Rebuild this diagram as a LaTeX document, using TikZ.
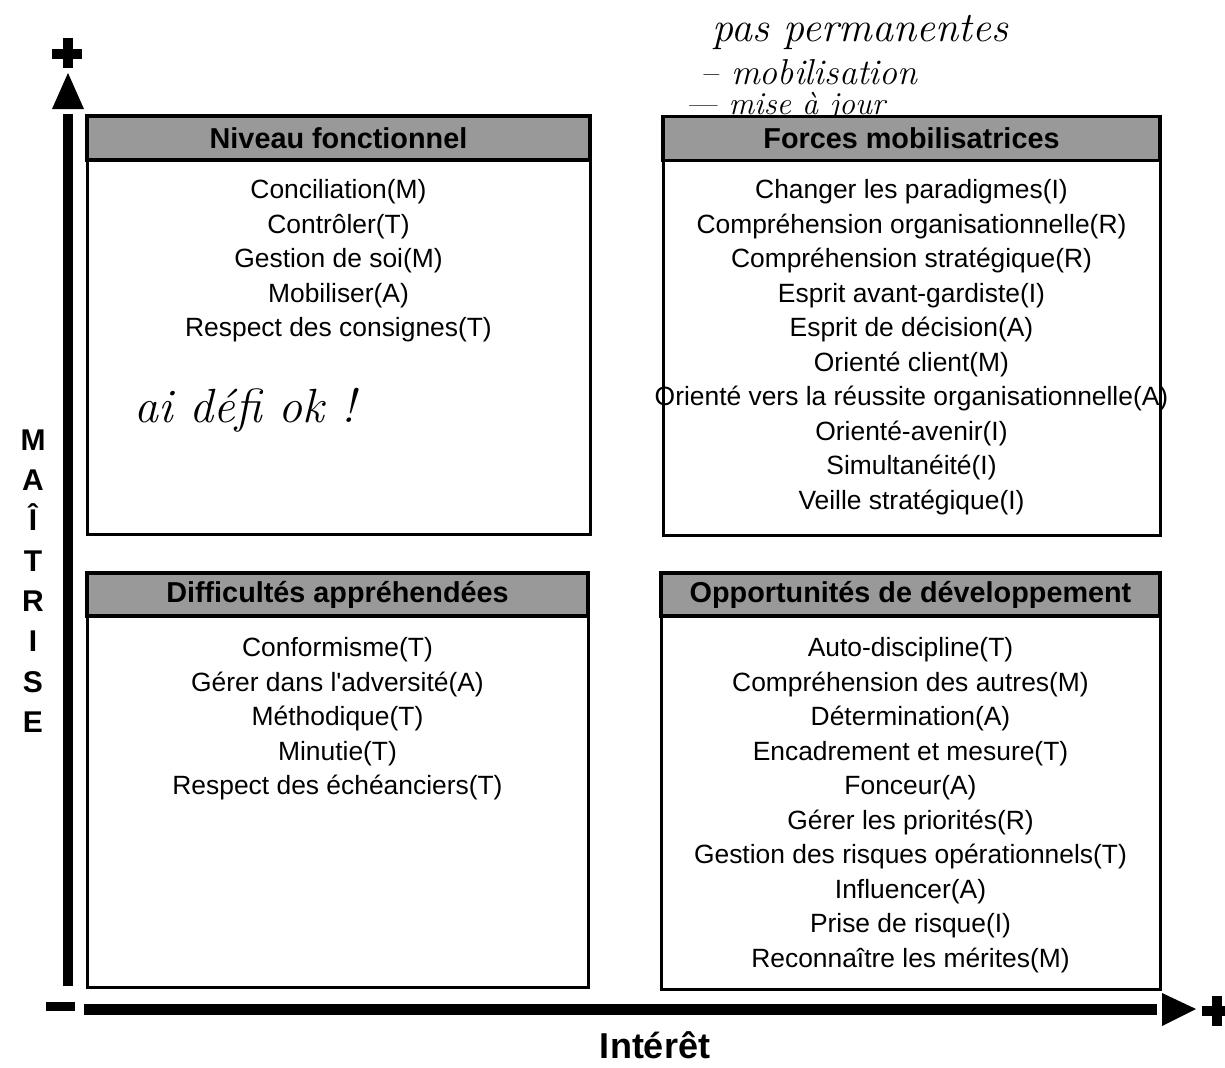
\documentclass[tikz,border=0pt]{standalone}
\usepackage{fontspec}
\setsansfont{Liberation Sans}
\usetikzlibrary{positioning}

\begin{document}
\begin{tikzpicture}[x=0.5pt,y=-0.5pt,
bx/.style={draw,line width=1.5pt,inner sep=0pt,anchor=north},
hdr/.style={draw,line width=1.8pt,fill=black!40,inner sep=0pt,
minimum height=22pt,font=\sffamily\bfseries\fontsize{14.4}{16}\selectfont},
lst/.style={align=center,inner sep=0pt,anchor=north,
font=\sffamily\fontsize{13.2}{17.25}\selectfont},
axlbl/.style={inner sep=0pt,font=\sffamily\bfseries\fontsize{15}{20.15}\selectfont},
note/.style={inner sep=0pt,font=\itshape\fontsize{21}{21}\selectfont}]
\useasboundingbox (0,0) rectangle (1225,1067);

% notes written on the sheet
\node[note] (pasperm) at (860,32) {pas permanentes};
\node[note,anchor=west,font=\itshape\fontsize{18}{18}\selectfont] (mobil) at (700,72) {-- mobilisation};
\node[note,anchor=west,font=\itshape\fontsize{16}{16}\selectfont] (misejour) at (685,107) {--- mise à jour};
\node[note,font=\itshape\fontsize{24}{24}\selectfont] (defi) at (245,410) {ai défi ok !};

% the four boxes
\node[bx,minimum width=251.5pt,minimum height=208.5pt] (nivBox) at (338.5,116) {};
\node[hdr,minimum width=251.5pt] (nivHdr) at (338.5,138) {Niveau fonctionnel};
\node[lst] (nivList) at (338.5,179)
  {Conciliation(M)\\Contrôler(T)\\Gestion de soi(M)\\Mobiliser(A)\\Respect des consignes(T)};

\node[bx,minimum width=248.5pt,minimum height=208.5pt] (forBox) at (911.5,117) {};
\node[hdr,minimum width=248.5pt] (forHdr) at (911.5,138.5) {Forces mobilisatrices};
\node[lst] (forList) at (911.5,179)
  {Changer les paradigmes(I)\\Compréhension organisationnelle(R)\\
   Compréhension stratégique(R)\\Esprit avant-gardiste(I)\\Esprit de décision(A)\\
   Orienté client(M)\\Orienté vers la réussite organisationnelle(A)\\
   Orienté-avenir(I)\\Simultanéité(I)\\Veille stratégique(I)};

\node[bx,minimum width=250.5pt,minimum height=206.5pt] (difBox) at (337.5,573) {};
\node[hdr,minimum width=250.5pt,minimum height=21.5pt] (difHdr) at (337.5,594.5) {Difficultés appréhendées};
\node[lst] (difList) at (337.5,637)
  {Conformisme(T)\\Gérer dans l\textquotesingle adversité(A)\\Méthodique(T)\\Minutie(T)\\
   Respect des échéanciers(T)};

\node[bx,minimum width=249.5pt,minimum height=207.5pt] (oppBox) at (910.5,573) {};
\node[hdr,minimum width=249.5pt,minimum height=21.5pt] (oppHdr) at (910.5,594.5) {Opportunités de développement};
\node[lst] (oppList) at (910.5,637)
  {Auto-discipline(T)\\Compréhension des autres(M)\\Détermination(A)\\
   Encadrement et mesure(T)\\Fonceur(A)\\Gérer les priorités(R)\\
   Gestion des risques opérationnels(T)\\Influencer(A)\\Prise de risque(I)\\
   Reconnaître les mérites(M)};

% axes
\coordinate (yfoot) at (68,986);
\coordinate (yhead) at (68,114);
\coordinate (xfoot) at (84,1009);
\coordinate (xhead) at (1157,1009);
\draw[line width=5pt] (yfoot) -- (yhead);
\fill (52,109) -- (68,73) -- (84,109) -- cycle;
\draw[line width=5.5pt] (xfoot) -- (xhead);
\fill (1162,993) -- (1196,1009) -- (1162,1026) -- cycle;

% plus and minus marks
\draw[line width=5pt] (52,53.5) -- (82,53.5) (67.5,38) -- (67.5,68);
\draw[line width=5pt] (1202,1011) -- (1232,1011) (1217,996) -- (1217,1026);
\draw[line width=4.5pt] (46,1006.5) -- (75,1006.5);

% axis names
\node[axlbl,align=center] (maitrise) at (33,581) {M\\A\\Î\\T\\R\\I\\S\\E};
\node[axlbl,font=\sffamily\bfseries\fontsize{18}{20}\selectfont] (interet) at (655,1045) {Intérêt};
\end{tikzpicture}
\end{document}
